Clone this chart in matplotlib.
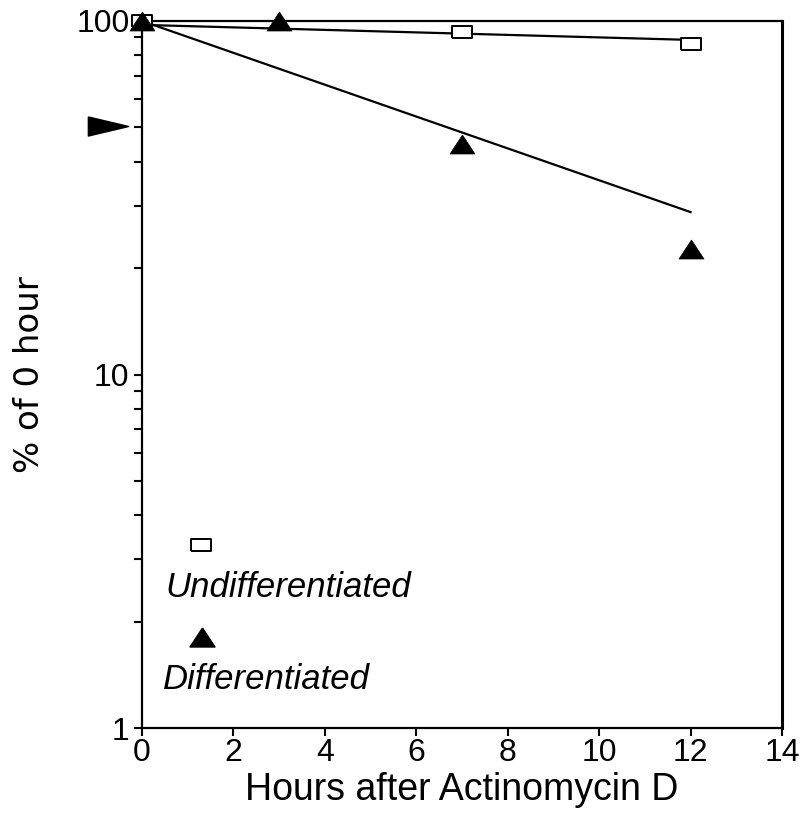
import matplotlib
matplotlib.use("Agg")
import matplotlib.pyplot as plt
import matplotlib.transforms as mtransforms

# ---- data ----
hours_undiff = [0, 7, 12]
undiff_pct = [100, 93, 86]
hours_diff = [0, 3, 7, 12]
diff_pct = [100, 100, 45, 22.7]
fit_hours = [0, 12]
fit_undiff = [97.5, 88.4]
fit_diff = [100, 28.8]
arrow_level = 50.5
xticks = [0, 2, 4, 6, 8, 10, 12, 14]
yticks = [1, 10, 100]
ytick_labels = ["1", "10", "100"]

plt.rcParams['font.family'] = ['Liberation Sans', 'DejaVu Sans']

fig = plt.figure(figsize=(8.08, 8.26), dpi=100)
ax = fig.add_axes([0.1757, 0.1186, 0.7921, 0.856])

rect_marker = [(-1, -0.63), (1, -0.63), (1, 0.63), (-1, 0.63), (-1, -0.63)]
tri_marker = [(0, 0.76), (-1, -0.76), (1, -0.76), (0, 0.76)]
arrow_marker = [(-1, 0.475), (1, 0), (-1, -0.475), (-1, 0.475)]

# fit lines
ax.plot(fit_hours, fit_undiff, color='black', lw=1.6, zorder=2)
ax.plot(fit_hours, fit_diff, color='black', lw=1.6, zorder=2)

# data points
ax.plot(hours_undiff, undiff_pct, linestyle='none', marker=rect_marker,
        markersize=14, markerfacecolor='white', markeredgecolor='black',
        markeredgewidth=1.4, zorder=3, clip_on=False)
ax.plot(hours_diff, diff_pct, linestyle='none', marker=tri_marker,
        markersize=18, markerfacecolor='black', markeredgecolor='black',
        markeredgewidth=0.5, zorder=4, clip_on=False)

# arrowhead on left of axis
trans = mtransforms.blended_transform_factory(ax.transAxes, ax.transData)
ax.plot([-0.053], [arrow_level], transform=trans, linestyle='none',
        marker=arrow_marker, markersize=29, color='black', clip_on=False)

ax.set_yscale('log')
ax.set_xlim(0, 14)
ax.set_ylim(1, 100)
ax.set_xticks(xticks)
ax.set_xticklabels([str(t) for t in xticks])
ax.set_yticks(yticks)
ax.set_yticklabels(ytick_labels)

ax.tick_params(axis='both', which='major', direction='out', length=6,
               width=1.5, labelsize=23, pad=1)
ax.tick_params(axis='y', which='minor', direction='out', length=6, width=1.5)
ax.tick_params(axis='y', which='minor', labelleft=False)
ax.tick_params(axis='y', pad=3)
for s in ax.spines.values():
    s.set_linewidth(1.6)
ax.spines['right'].set_linewidth(2.2)

ax.set_xlabel('Hours after Actinomycin D', fontsize=27, labelpad=3)
ax.set_ylabel('% of 0 hour', fontsize=24.5, family=['DejaVu Sans'], labelpad=22)

# legend-like annotations
ax.plot([0.092], [0.259], transform=ax.transAxes, linestyle='none',
        marker=rect_marker, markersize=14, markerfacecolor='white',
        markeredgecolor='black', markeredgewidth=1.4)
ax.text(0.036, 0.199, 'Undifferentiated', transform=ax.transAxes,
        fontsize=25, style='italic', ha='left', va='center')
ax.plot([0.094], [0.129], transform=ax.transAxes, linestyle='none',
        marker=tri_marker, markersize=18, color='black')
ax.text(0.033, 0.068, 'Differentiated', transform=ax.transAxes,
        fontsize=25, style='italic', ha='left', va='center')

fig.savefig('out.png', dpi=100)
